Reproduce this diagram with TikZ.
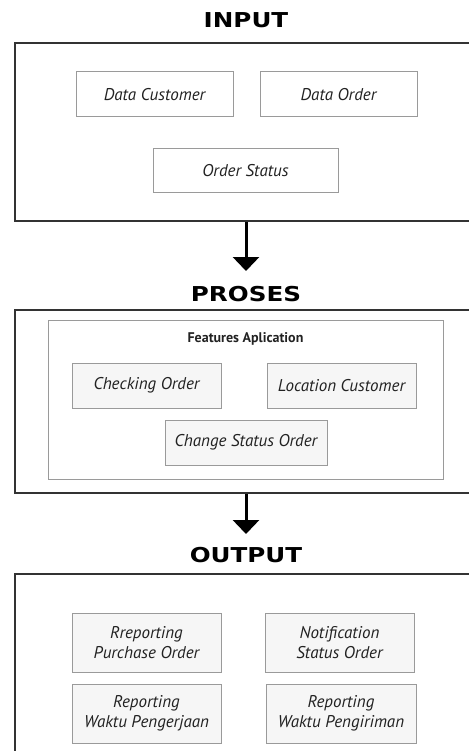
\documentclass[tikz,border=0pt]{standalone}
\usepackage{fontspec}
\setmainfont{PT Sans}
\newfontfamily\titlefont[FakeStretch=1.2]{DejaVu Sans Bold}
\usetikzlibrary{arrows.meta,positioning}
\definecolor{framegray}{HTML}{333333}
\definecolor{boxgray}{HTML}{9A9A9A}
\definecolor{boxfill}{HTML}{F6F6F6}
\definecolor{textgray}{HTML}{222222}

\begin{document}
\begin{tikzpicture}[
  x=1pt, y=-1pt,
  section/.style={font=\titlefont\fontsize{20.5}{22}\selectfont, inner sep=0pt},
  frame/.style={draw=framegray, line width=1.6pt, minimum width=462pt},
  itembox/.style={draw=boxgray, line width=1pt, fill=boxfill, inner sep=2pt,
    font=\itshape\fontsize{17}{19.5}\selectfont, text=textgray, align=center},
  featurebox/.style={draw=boxgray, line width=1pt, minimum width=395pt, minimum height=159pt},
  arrow/.style={line width=3pt, -{Triangle[width=26pt,length=14pt]}, black}
]
\useasboundingbox (0,0) rectangle (468,751);

% input
\node[section] (inputlabel) at (246,20) {INPUT};
\node[frame, minimum height=178pt] (inputframe) at (246,132) {};
\node[itembox, fill=white, minimum width=157pt, minimum height=45pt] (datacustomer) at (154.5,94.5) {Data Customer};
\node[itembox, fill=white, minimum width=157pt, minimum height=45pt] (dataorder) at (338.5,94.5) {Data Order};
\node[itembox, fill=white, minimum width=185pt, minimum height=44pt] (orderstatus) at (245.5,171) {Order Status};

% proses
\coordinate (tip1) at (246,271);
\node[section] (proseslabel) at (246,294) {PROSES};
\node[frame, minimum height=183pt] (prosesframe) at (246,401.5) {};
\node[featurebox] (features) at (245.5,399.5) {};
\node[font=\bfseries\fontsize{14}{16}\selectfont, text=textgray, below=10pt of features.north] (featurelabel) {Features Aplication};
\node[itembox, minimum width=149pt, minimum height=45pt] (checking) at (146.5,385.5) {Checking Order};
\node[itembox, minimum width=149pt, minimum height=45pt] (location) at (341.5,385.5) {Location Customer};
\node[itembox, minimum width=162pt, minimum height=45pt] (changestatus) at (246,442.5) {Change Status Order};

% output
\coordinate (tip2) at (246,534);
\node[section] (outputlabel) at (246,555) {OUTPUT};
\node[frame, minimum height=191pt] (outputframe) at (246,669.5) {};
\node[itembox, minimum width=149pt, minimum height=59pt] (purchase) at (146.5,642.5) {Rreporting\\Purchase Order};
\node[itembox, minimum width=149pt, minimum height=59pt] (notification) at (339.5,642.5) {Notification\\Status Order};
\node[itembox, minimum width=149pt, minimum height=59pt] (pengerjaan) at (146.5,713.5) {Reporting\\Waktu Pengerjaan};
\node[itembox, minimum width=150pt, minimum height=59pt] (pengiriman) at (341,713.5) {Reporting\\Waktu Pengiriman};

\draw[arrow] (inputframe.south) -- (tip1);
\draw[arrow] (prosesframe.south) -- (tip2);

\end{tikzpicture}
\end{document}
